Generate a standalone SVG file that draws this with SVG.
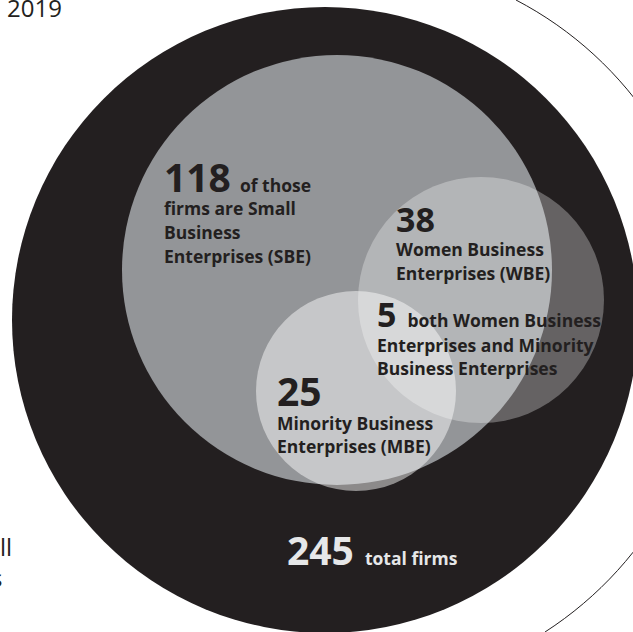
<svg xmlns="http://www.w3.org/2000/svg" width="633" height="632" viewBox="0 0 633 632">
<style>
.b{font-family:"Open Sans","Noto Sans","DejaVu Sans",sans-serif;font-weight:700;fill:#231f20}
.r{font-family:"Open Sans","Noto Sans","DejaVu Sans",sans-serif;font-weight:400;fill:#231f20;font-size:24px}
.big{font-size:39px}
.mid{font-size:34px}
.sm{font-size:17.5px}
.w{fill:#e6e7e8}
</style>
<rect width="633" height="632" fill="#ffffff"/>
<text class="r" x="7" y="17">2019</text>
<text class="r" x="0" y="556">ll</text>
<text class="r" x="-9" y="587">s</text>
<path id="outer-ring" d="M516,0 A366,366 0 0 1 545,632" fill="none" stroke="#231f20" stroke-width="1"/>
<g id="total">
<circle cx="325" cy="320" r="313" fill="#231f20"/>
<text class="b w" x="287" y="565"><tspan class="big">245</tspan><tspan class="sm" dx="11">total firms</tspan></text>
</g>
<g id="sbe">
<circle cx="337" cy="270" r="215" fill="#939598"/>
<text class="b" x="164" y="192"><tspan class="big">118</tspan><tspan class="sm" dx="9">of those</tspan></text>
<text class="b sm" x="164" y="215">firms are Small</text>
<text class="b sm" x="164" y="239">Business</text>
<text class="b sm" x="164" y="263">Enterprises (SBE)</text>
</g>
<g id="wbe">
<circle cx="481" cy="300" r="123" fill="#ffffff" fill-opacity="0.3"/>
<text class="b mid" x="396" y="232">38</text>
<text class="b sm" x="396" y="256">Women Business</text>
<text class="b sm" x="396" y="280">Enterprises (WBE)</text>
</g>
<g id="mbe">
<circle cx="356" cy="391" r="100" fill="#ffffff" fill-opacity="0.48"/>
<text class="b big" x="277" y="406">25</text>
<text class="b sm" x="277" y="430">Minority Business</text>
<text class="b sm" x="277" y="453">Enterprises (MBE)</text>
</g>
<g id="both">
<text class="b" x="377" y="327"><tspan class="mid">5</tspan><tspan class="sm" dx="11">both Women Business</tspan></text>
<text class="b sm" x="377" y="352">Enterprises and Minority</text>
<text class="b sm" x="377" y="375">Business Enterprises</text>
</g>
</svg>
